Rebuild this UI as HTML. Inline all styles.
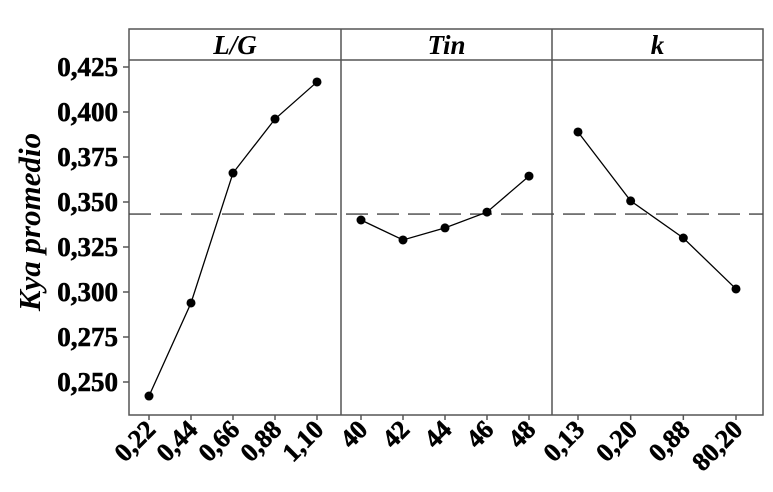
<!DOCTYPE html>
<html><head><meta charset="utf-8"><style>
html,body{margin:0;padding:0;background:#fff;}
svg{display:block;font-family:"Liberation Serif",serif;}
</style></head><body>
<svg id="chart" width="773" height="492">
<g id="g"></g>
</svg>
<script>
const panelTitles = ["L/G", "Tin", "k"];
const lgCats = ["0,22","0,44","0,66","0,88","1,10"];
const lgVals = [0.2422, 0.2939, 0.3661, 0.3961, 0.4167];
const tinCats = ["40","42","44","46","48"];
const tinVals = [0.3400, 0.3289, 0.3356, 0.3444, 0.3644];
const kCats = ["0,13","0,20","0,88","80,20"];
const kVals = [0.3889, 0.3506, 0.3300, 0.3017];
const meanVal = 0.3433;
const yTicks = [0.250, 0.275, 0.300, 0.325, 0.350, 0.375, 0.400, 0.425];
const yTickLabels = ["0,250","0,275","0,300","0,325","0,350","0,375","0,400","0,425"];

const NS = "http://www.w3.org/2000/svg";
const g = document.getElementById('g');
function el(t, a){const e=document.createElementNS(NS,t);for(const k in a)e.setAttribute(k,a[k]);g.appendChild(e);return e;}
const L=129, R=763, T=29, HB=60, B=415;
const panels=[[129,341],[341,552],[552,763]];
const padL=[20,20,26], padR=[24,23,27];
function y(v){return 67 + (0.425 - v) * 1800;}
function xs(p, n){const [a,b]=panels[p];const step=(b-a-padL[p]-padR[p])/(n-1);return i=>a+padL[p]+i*step;}

let r=el('rect',{x:L,y:T,width:R-L,height:B-T,fill:'none',stroke:'#555','stroke-width':1.5});

let hl=el('line',{x1:L,x2:R,y1:HB,y2:HB,stroke:'#555','stroke-width':1.5});

[341,552].forEach(x=>{const l=el('line',{x1:x,x2:x,y1:T,y2:B,stroke:'#555','stroke-width':1.5});
});
panelTitles.forEach((t,i)=>{const [a,b]=panels[i];
const tx=el('text',{x:(a+b)/2,y:54,'text-anchor':'middle','font-size':27,'font-weight':'bold','font-style':'italic'});
tx.textContent=t;});

yTicks.forEach((v,i)=>{const yy=y(v);
const tk=el('line',{x1:123,x2:L,y1:yy,y2:yy,stroke:'#555','stroke-width':1.5});

const tx=el('text',{x:118,y:yy+9,'text-anchor':'end','font-size':27,'font-weight':'bold','stroke':'#000','stroke-width':0.6});
tx.textContent=yTickLabels[i];});
const yl=el('text',{x:0,y:0,transform:'translate(40,222) rotate(-90)','text-anchor':'middle','font-size':31,'font-weight':'bold','font-style':'italic'});
yl.textContent='Kya promedio';

const ml=el('line',{x1:L,x2:R,y1:y(meanVal),y2:y(meanVal),stroke:'#444','stroke-width':1.3,'stroke-dasharray':'22,9'});


function series(p,cats,vals){const X=xs(p,cats.length);
const pts=vals.map((v,i)=>X(i)+','+y(v)).join(' ');
const pl=el('polyline',{points:pts,fill:'none',stroke:'#000','stroke-width':1.3});

vals.forEach((v,i)=>{const c=el('circle',{cx:X(i),cy:y(v),r:4.5,fill:'#000'});
});
cats.forEach((c,i)=>{const xx=X(i);
const tk=el('line',{x1:xx,x2:xx,y1:B,y2:B+5,stroke:'#555','stroke-width':1.5});

const tx=el('text',{x:0,y:0,transform:`translate(${xx+8},${B+16}) rotate(-45)`,'text-anchor':'end','font-size':26,'font-weight':'bold','stroke':'#000','stroke-width':0.6});
tx.textContent=c;});}
series(0,lgCats,lgVals);
series(1,tinCats,tinVals);
series(2,kCats,kVals);
</script>
</body></html>
